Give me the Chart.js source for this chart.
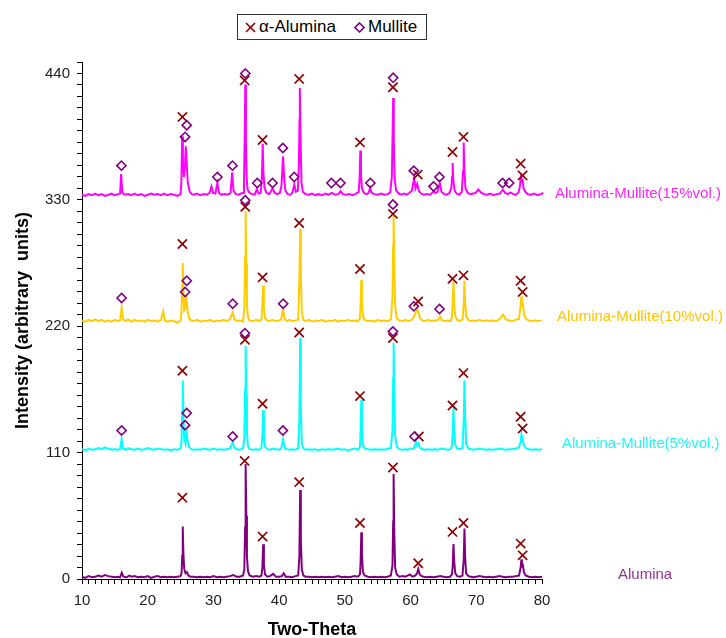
<!DOCTYPE html>
<html><head><meta charset="utf-8">
<script src="https://cdn.jsdelivr.net/npm/chart.js@4"></script>
<style>
html,body{margin:0;padding:0;background:#fff;}
#wrap{position:relative;width:726px;height:638px;overflow:hidden;background:#fff;}
#c{position:absolute;left:0;top:0;}
#legend{position:absolute;left:237px;top:14px;width:190px;height:26px;border:1px solid #333;box-sizing:border-box;background:#fff;font:17px "Liberation Sans",Arial,sans-serif;color:#000;}
#legend span,#legend svg{position:absolute;}
#legend span{top:1px;line-height:22px;white-space:nowrap;}
</style></head>
<body><div id="wrap"><canvas id="c" width="726" height="638"></canvas>
<div id="legend">
<svg style="left:7px;top:7px" width="11" height="11"><line x1="1" y1="1" x2="10" y2="10" stroke="#8B0000" stroke-width="1.6"/><line x1="10" y1="1" x2="1" y2="10" stroke="#8B0000" stroke-width="1.6"/></svg>
<span style="left:21px">α-Alumina</span>
<svg style="left:116px;top:7px" width="11" height="11"><polygon points="5.5,1 10,5.5 5.5,10 1,5.5" fill="none" stroke="#800080" stroke-width="1.6"/></svg>
<span style="left:130px">Mullite</span>
</div></div>
<script>
// ---------- DATA ----------
const xTickLabels = [10,20,30,40,50,60,70,80];
const yTickLabels = [0,110,220,330,440];
const seriesNames = ['Alumina','Alumina-Mullite(5%vol.)','Alumina-Mullite(10%vol.)','Alumina-Mullite(15%vol.)'];
const legendNames = ['α-Alumina','Mullite'];

const alumina = [[10,2],[10.5,1],[11,2.5],[11.5,1.5],[12,2],[12.5,3],[13,2],[13.5,3.5],[14,2.5],[14.5,2],[15,1.5],[15.5,2],[15.8,1.5],[16.05,5.5],[16.3,2],[16.8,1.5],[17.2,3],[17.6,2],[18,2.5],[18.5,1.5],[19,2],[19.5,1.5],[20,2.5],[20.5,1],[21,2],[21.5,2.5],[22,1.5],[22.5,2],[23,1.5],[23.5,2],[24,1.5],[24.5,2],[25,2.5],[25.15,5],[25.25,20],[25.33,45.6],[25.43,22],[25.55,9],[25.75,5],[25.95,6],[26.2,3],[26.5,2],[27,2],[27.5,1.5],[28,2],[28.5,1.5],[29,2],[29.5,1.5],[30,2.5],[30.5,1.5],[31,2],[31.5,1.5],[32,2],[32.5,2.5],[33,3.5],[33.5,2],[34,2],[34.5,3],[34.7,8],[34.82,45],[34.9,100],[35,55],[35.1,20],[35.25,7],[35.5,3],[36,2],[36.5,2.5],[37,2],[37.3,3],[37.45,10],[37.57,30.2],[37.68,12],[37.85,4],[38.2,2],[38.6,2.5],[39.1,4.5],[39.5,2],[40,2],[40.4,2.5],[40.7,5],[41,2],[41.5,2],[42,1.5],[42.5,2.5],[42.9,3],[43.08,20],[43.2,77.5],[43.3,35],[43.45,8],[43.7,3],[44,2],[44.5,2],[45,1.5],[45.5,2],[46,1.5],[46.5,2],[47,1.5],[47.5,2],[48,1.5],[48.5,2],[49,2.5],[49.5,1.5],[50,2],[50.5,1.5],[51,2],[51.5,2.5],[52,2],[52.3,4],[52.4,15],[52.5,40.7],[52.6,22],[52.75,6],[53,3],[53.5,2],[54,1.5],[54.5,2],[55,1.5],[55.5,2],[56,1.5],[56.5,2],[57,3],[57.25,12],[57.35,50],[57.42,91.5],[57.52,40],[57.65,10],[57.9,4],[58.3,2],[58.8,2.5],[59.2,2],[59.9,4],[60.3,2],[60.7,3],[61,5],[61.17,8.7],[61.4,4],[61.7,2.5],[62,2],[62.5,1.5],[63,2],[63.5,1.5],[64,2],[64.5,2.5],[65,2],[65.5,1.5],[66,2],[66.3,4],[66.42,12],[66.53,30.5],[66.63,16],[66.8,5],[67.1,2.5],[67.5,2],[67.9,3],[68.1,18],[68.2,44],[68.3,20],[68.45,5],[68.8,2.5],[69.2,2],[69.5,1.5],[70,2],[70.5,2.5],[71,2],[71.5,1.5],[72,2],[72.5,1.5],[73,2],[73.5,2.5],[74,2],[74.5,1.5],[75,2],[75.5,2],[76,2.5],[76.5,3],[76.75,10],[76.86,17.1],[76.95,11],[77.1,12],[77.25,6],[77.5,3],[78,2],[78.5,1.5],[79,2],[79.5,1.5],[80,2],[80.3,3.5],[80.5,6]];

const mullite5 = [[10,113],[10.5,112],[11,113.5],[11.5,112.5],[12,113],[12.5,114],[13,113],[13.5,114.5],[14,113.5],[14.5,112.5],[15,113],[15.5,112.5],[15.8,113],[16.03,121.7],[16.25,113.5],[16.7,112.5],[17,114],[17.5,113],[18,112.5],[18.5,113.5],[19,112.5],[19.5,113],[20,114],[20.5,113],[21,112.5],[21.5,113.5],[22,113],[22.5,112.5],[23,113],[23.5,112],[24,113],[24.5,112.5],[25,113.5],[25.15,120],[25.25,145],[25.33,172.8],[25.45,140],[25.55,122],[25.75,118],[25.9,129.8],[26.05,121],[26.3,115],[26.6,113],[27,112.5],[27.5,113],[28,112.5],[28.5,113.5],[29,113],[29.5,112.5],[30,113.5],[30.5,112.5],[31,113],[31.5,112.5],[32,113],[32.5,113.5],[32.93,118.8],[33.2,114],[33.6,113],[34,112.5],[34.5,113.5],[34.7,122],[34.82,165],[34.9,203],[35,160],[35.1,128],[35.25,116],[35.5,113],[36,112.5],[36.5,113],[37,112.5],[37.3,114],[37.45,125],[37.57,147.3],[37.68,124],[37.85,115],[38.2,113],[38.6,112.5],[39,113.5],[39.5,113],[40,112.5],[40.3,113.5],[40.6,121.7],[40.85,114],[41.2,113],[41.6,112.5],[42,113],[42.5,112.5],[42.9,114],[43.08,140],[43.2,210],[43.3,150],[43.45,118],[43.7,113.5],[44,112.5],[44.5,113],[45,112.5],[45.5,113],[46,112],[46.5,113],[47,112.5],[47.5,113],[48,112.5],[48.5,113],[49,113.5],[49.5,112.5],[50,113],[50.5,112],[51,113],[51.5,113.5],[52,112.5],[52.3,115],[52.4,130],[52.5,156],[52.6,132],[52.75,117],[53,113.5],[53.5,113],[54,112.5],[54.5,113],[55,112.5],[55.5,113],[56,112.5],[56.5,113.5],[57,114],[57.25,130],[57.35,175],[57.42,205.6],[57.52,160],[57.65,125],[57.9,115],[58.3,113],[58.8,112.5],[59.2,113],[59.6,112.5],[60,113.5],[60.4,113],[60.85,118.8],[61,116],[61.2,118],[61.45,114],[61.8,113],[62.2,112.5],[62.7,113],[63.2,112.5],[63.7,113],[64.2,112.5],[64.7,113.5],[65.2,113],[65.7,112.5],[66.1,113],[66.3,116],[66.42,128],[66.53,149.6],[66.63,130],[66.8,117],[67.1,113.5],[67.5,113],[67.9,114],[68.1,140],[68.2,172.8],[68.3,145],[68.45,118],[68.8,113.5],[69.2,113],[69.6,112.5],[70,113],[70.5,113.5],[71,113],[71.5,112.5],[72,113],[72.5,112.5],[73,113],[73.5,113.5],[74,113],[74.5,112.5],[75,113],[75.5,113],[76,113.5],[76.5,114.5],[76.75,120],[76.86,125.5],[76.95,120],[77.1,121],[77.25,116],[77.5,114],[78,113],[78.5,112.5],[79,113],[79.5,112.5],[80,113],[80.3,115],[80.5,119]];

const mullite10 = [[10,225],[10.5,224],[11,225.5],[11.5,224.5],[12,226],[12.5,224.5],[13,225.5],[13.5,224],[14,225],[14.5,224],[15,225.5],[15.5,224.5],[15.8,225],[16.03,235.9],[16.25,226],[16.7,224.5],[17,226],[17.5,224],[18,225.5],[18.5,224.5],[19,225],[19.5,224],[20,225.5],[20.5,224.5],[21,225],[21.5,224],[22,225.5],[22.35,232.8],[22.6,225],[23,224],[23.5,225],[24,224.5],[24.5,223],[25,225],[25.15,235],[25.25,255],[25.33,275.1],[25.45,250],[25.55,234],[25.75,236],[25.9,246],[26.05,234],[26.3,227],[26.6,225],[27,224.5],[27.5,225.5],[28,224],[28.5,225],[29,224.5],[29.5,225.5],[30,224],[30.5,225],[31,224.5],[31.5,225.5],[32,224.5],[32.5,226],[32.93,232],[33.2,226],[33.6,224.5],[34,225],[34.5,224],[34.7,235],[34.82,280],[34.9,320],[35,275],[35.1,240],[35.25,228],[35.5,225],[36,224.5],[36.5,225.5],[37,224.5],[37.3,226],[37.45,238],[37.57,255.5],[37.68,236],[37.85,227],[38.2,225],[38.6,224.5],[39,225.5],[39.5,224.5],[40,225],[40.3,226],[40.6,234.4],[40.85,226],[41.2,224.5],[41.6,225.5],[42,224.5],[42.5,225],[42.9,226],[43.08,260],[43.2,304.7],[43.3,265],[43.45,232],[43.7,225.5],[44,224.5],[44.5,225.5],[45,224],[45.5,225],[46,224.5],[46.5,225.5],[47,224],[47.5,225],[48,224.5],[48.5,225.5],[49,224],[49.5,225],[50,224.5],[50.5,225.5],[51,224.5],[51.5,225],[52,224.5],[52.3,227],[52.4,240],[52.5,260.5],[52.6,243],[52.75,229],[53,225.5],[53.5,224.5],[54,225],[54.5,224],[55,225.5],[55.5,224.5],[56,225],[56.5,224.5],[57,226],[57.25,245],[57.35,290],[57.42,316],[57.52,275],[57.65,238],[57.9,227],[58.3,225],[58.8,224.5],[59.2,225.5],[59.6,224.5],[60,225],[60.4,227],[60.7,231],[61,234.4],[61.2,232],[61.45,227],[61.8,225],[62.2,224.5],[62.7,225.5],[63.2,224.5],[63.7,225],[64.2,225.5],[64.5,228.5],[64.8,225],[65.2,224.5],[65.7,225],[66.1,224.5],[66.3,228],[66.42,242],[66.53,259],[66.63,240],[66.8,229],[67.1,225.5],[67.5,224.5],[67.9,226],[68.1,240],[68.2,259.6],[68.3,242],[68.45,229],[68.8,225.5],[69.2,224.5],[69.6,225],[70,224.5],[70.5,225.5],[71,224.5],[71.5,225],[72,224.5],[72.5,225],[73,224.5],[73.5,226],[74.1,230],[74.5,226],[75,225],[75.5,224.5],[76,225.5],[76.5,226.5],[76.75,238],[76.86,246],[76.95,238],[77.1,239],[77.25,231],[77.5,227],[78,225],[78.5,224.5],[79,225],[79.5,224.5],[80,225],[80.3,226.5],[80.5,229]];

const mullite15 = [[10,334.5],[10.5,333.5],[11,335],[11.5,334],[12,335.5],[12.5,334],[13,335],[13.5,333.5],[14,334.5],[14.5,335.5],[15,334],[15.5,335],[15.8,335.5],[15.95,352.5],[16.15,336],[16.5,334.5],[17,335],[17.5,334],[18,335.5],[18.5,334],[19,335],[19.5,333.5],[20,334.5],[20.5,335.5],[21,334.5],[21.5,335],[22,334],[22.5,335.5],[23,334],[23.5,335],[24,334.5],[24.5,333.5],[25,335],[25.12,345],[25.25,385.3],[25.35,365],[25.5,350],[25.65,358],[25.8,376.6],[25.95,360],[26.1,345],[26.4,337],[26.7,335],[27,334.5],[27.5,335.5],[28,334],[28.5,335],[29,334.5],[29.4,336],[29.7,341.7],[29.95,336],[30.3,335.5],[30.6,344.6],[30.85,336],[31.2,334.5],[31.7,335],[32.2,334.5],[32.6,336],[32.85,354],[33.05,338],[33.4,335],[33.8,334.5],[34.2,335.5],[34.5,336],[34.65,345],[34.77,390],[34.85,430.3],[34.95,380],[35.05,350],[35.2,339],[35.5,336],[35.9,335],[36.3,334.5],[36.6,339.4],[36.85,335.5],[37.2,336],[37.38,350],[37.5,378.9],[37.6,355],[37.78,340],[38.1,336],[38.5,335],[39,340.3],[39.3,336],[39.7,335],[40.1,336],[40.35,342],[40.6,367.9],[40.75,350],[40.95,338],[41.3,335],[41.7,334.5],[42,336],[42.3,343.2],[42.55,337],[42.85,338],[43,360],[43.1,400],[43.15,427.4],[43.25,385],[43.4,345],[43.6,337],[44,335],[44.5,334.5],[45,335.5],[45.5,334],[46,335],[46.5,334],[47,335.5],[47.5,334.5],[48,336],[48.5,334.5],[49,335],[49.35,337.4],[49.7,335],[50.2,334.5],[50.7,335],[51.2,334],[51.7,335.5],[52.1,337],[52.25,350],[52.35,373],[52.45,352],[52.6,340],[52.9,336],[53.3,335],[53.6,336],[53.85,340.3],[54.1,336],[54.5,335],[55,334.5],[55.5,335.5],[56,334.5],[56.5,335],[56.9,336.5],[57.15,350],[57.27,390],[57.35,418.7],[57.45,380],[57.58,348],[57.8,338],[58.2,335.5],[58.6,334.5],[59,335.5],[59.4,334.5],[59.8,336],[60.2,338],[60.55,349],[60.75,340],[61,344],[61.25,338],[61.6,335.5],[62,334.5],[62.5,335],[63,334.5],[63.5,337.4],[63.8,336],[64.1,337],[64.45,344.7],[64.7,337],[65.1,335],[65.5,334.5],[65.9,336],[66.2,340],[66.32,350],[66.4,362.1],[66.5,348],[66.7,338],[67,335.5],[67.4,334.5],[67.8,337],[67.98,355],[68.08,380],[68.18,358],[68.35,340],[68.7,336],[69.1,335],[69.5,335.5],[69.9,336],[70.3,338.9],[70.7,336.5],[71.1,335],[71.6,334.5],[72.1,335.5],[72.6,334],[73.1,335],[73.6,335.5],[74.05,338.9],[74.4,336],[74.8,335],[75.2,336.5],[75.6,335],[76,334.5],[76.4,336],[76.65,342],[76.8,351.9],[76.9,346],[77.05,347],[77.2,340],[77.45,337],[77.8,335],[78.3,334.5],[78.8,335.5],[79.3,334],[79.8,335],[80.2,336],[80.5,340.3]];

const aluminaPeaks = [[25.28,70.8],[34.75,102.8],[37.48,36.9],[43.05,84.3],[52.3,48.8],[57.32,97],[61.16,13.7],[66.38,41],[68.05,48.8],[76.75,30.8],[77.05,20.6],
 [25.28,181.2],[34.8,208.2],[37.48,152.5],[43.05,214.6],[52.3,159.2],[57.32,209.7],[61.26,124],[66.38,151],[68.05,179.2],[76.75,141.2],[77.05,131],
 [25.28,291.6],[34.84,323.9],[37.48,262.5],[43.05,309.9],[52.3,269.8],[57.32,317.8],[61.16,241.6],[66.38,261.4],[68.05,264.3],[76.75,259.6],[77.05,249.8],
 [25.28,402.2],[34.75,434],[37.48,382.1],[43.05,435.3],[52.3,380],[57.32,428],[61.1,352],[66.38,371.7],[68.05,384.8],[76.75,361.5],[77.05,351.3]];

const mullitePeaks = [[16.03,129.2],[25.94,144.4],[25.69,133.9],[32.93,124],[34.8,214],[40.57,129.2],[57.32,215.5],[60.6,124],
 [16.03,244.6],[25.94,259.6],[25.69,249.8],[32.93,239.6],[34.84,329.6],[40.61,239.6],[57.32,325.9],[60.5,237.3],[64.4,235],
 [16,359.8],[25.94,395],[25.69,384.8],[30.6,349.9],[32.9,359.8],[34.85,440],[36.67,344.7],[39,344.7],[40.57,375.2],[42.29,349.9],[47.96,344.7],[49.33,344.7],[53.88,344.7],[57.35,436.2],[60.5,355.4],[63.5,341.7],[64.4,349.9],[74,344.7],[75,344.7]];

// ---------- STYLE ----------
const FONT = '"Liberation Sans", Arial, sans-serif';
const traceColors = ['#800080','#00FFFF','#FFCC00','#FF00FF'];
const labelColors = ['#8E358E','#22F5F5','#FFC400','#FF22FF'];
const labelLevels = [3.5,117.5,228.5,335.5];
const labelLeft = [618,562,557,555];

const toXY = a => a.map(p => ({x:p[0], y:p[1]}));
const traces = [alumina, mullite5, mullite10, mullite15];

const datasets = traces.map((t,i) => ({
  label: seriesNames[i], data: toXY(t), showLine: true, pointRadius: 0,
  borderColor: traceColors[i], borderWidth: 2, tension: 0, clip: false, order: 2
}));
datasets.push({label: legendNames[0], data: toXY(aluminaPeaks), showLine:false, pointStyle:'crossRot', pointRadius:6.5, borderColor:'#8B0000', backgroundColor:'rgba(0,0,0,0)', pointBorderWidth:1.7, clip:false, order:1});
datasets.push({label: legendNames[1], data: toXY(mullitePeaks), showLine:false, pointStyle:'rectRot', pointRadius:4.6, borderColor:'#800080', backgroundColor:'rgba(0,0,0,0)', pointBorderWidth:1.6, clip:false, order:0});

const labelPlugin = {
  id: 'seriesLabels',
  afterDraw(chart) {
    const {ctx} = chart; const y = chart.scales.y;
    ctx.save();
    ctx.font = '15px ' + FONT; ctx.textAlign = 'left'; ctx.textBaseline = 'middle';
    seriesNames.forEach((n,i) => { ctx.fillStyle = labelColors[i]; ctx.fillText(n, labelLeft[i], y.getPixelForValue(labelLevels[i])); });
    ctx.restore();
  }
};

new Chart(document.getElementById('c'), {
  type: 'scatter',
  data: {datasets},
  plugins: [labelPlugin],
  options: {
    responsive: false, animation: false, devicePixelRatio: 1, events: [],
    layout: {padding: {top: 62, right: 184, left: 0, bottom: 0}},
    plugins: {legend: {display: false}, tooltip: {enabled: false}},
    scales: {
      x: {
        type: 'linear', min: 10, max: 80,
        afterFit: s => { s.height = 59; },
        afterBuildTicks: s => { const t=[]; for (let v=10; v<=80; v++) t.push({value:v}); s.ticks = t; },
        ticks: {autoSkip:false, maxRotation:0, padding: 8, color:'#222', font:{family:FONT, size:15},
          callback: v => xTickLabels.includes(v) ? String(v) : ''},
        grid: {display:true, drawOnChartArea:false, drawTicks:true, tickLength:5, tickColor:'#000', tickWidth:1},
        border: {display:true, color:'#000', width:1},
        title: {display:true, text:'Two-Theta', color:'#000', font:{family:FONT, size:18, weight:'bold'}, padding:{top:0, bottom:-3}}
      },
      y: {
        type: 'linear', min: 0, max: 450,
        afterFit: s => { s.width = 82; },
        afterBuildTicks: s => { const t=[]; for (let v=0; v<=450; v+=10) t.push({value:v}); s.ticks = t; },
        ticks: {autoSkip:false, padding: 7, color:'#222', font:{family:FONT, size:15},
          callback: v => yTickLabels.includes(v) ? String(v) : ''},
        grid: {display:true, drawOnChartArea:false, drawTicks:true, tickLength:5, tickColor:'#000', tickWidth:1},
        border: {display:true, color:'#000', width:1},
        title: {display:true, text:'Intensity (arbitrary  units)', color:'#000', font:{family:FONT, size:18, weight:'bold'}, padding:{top:12, bottom:0}}
      }
    }
  }
});
</script>
</body></html>
